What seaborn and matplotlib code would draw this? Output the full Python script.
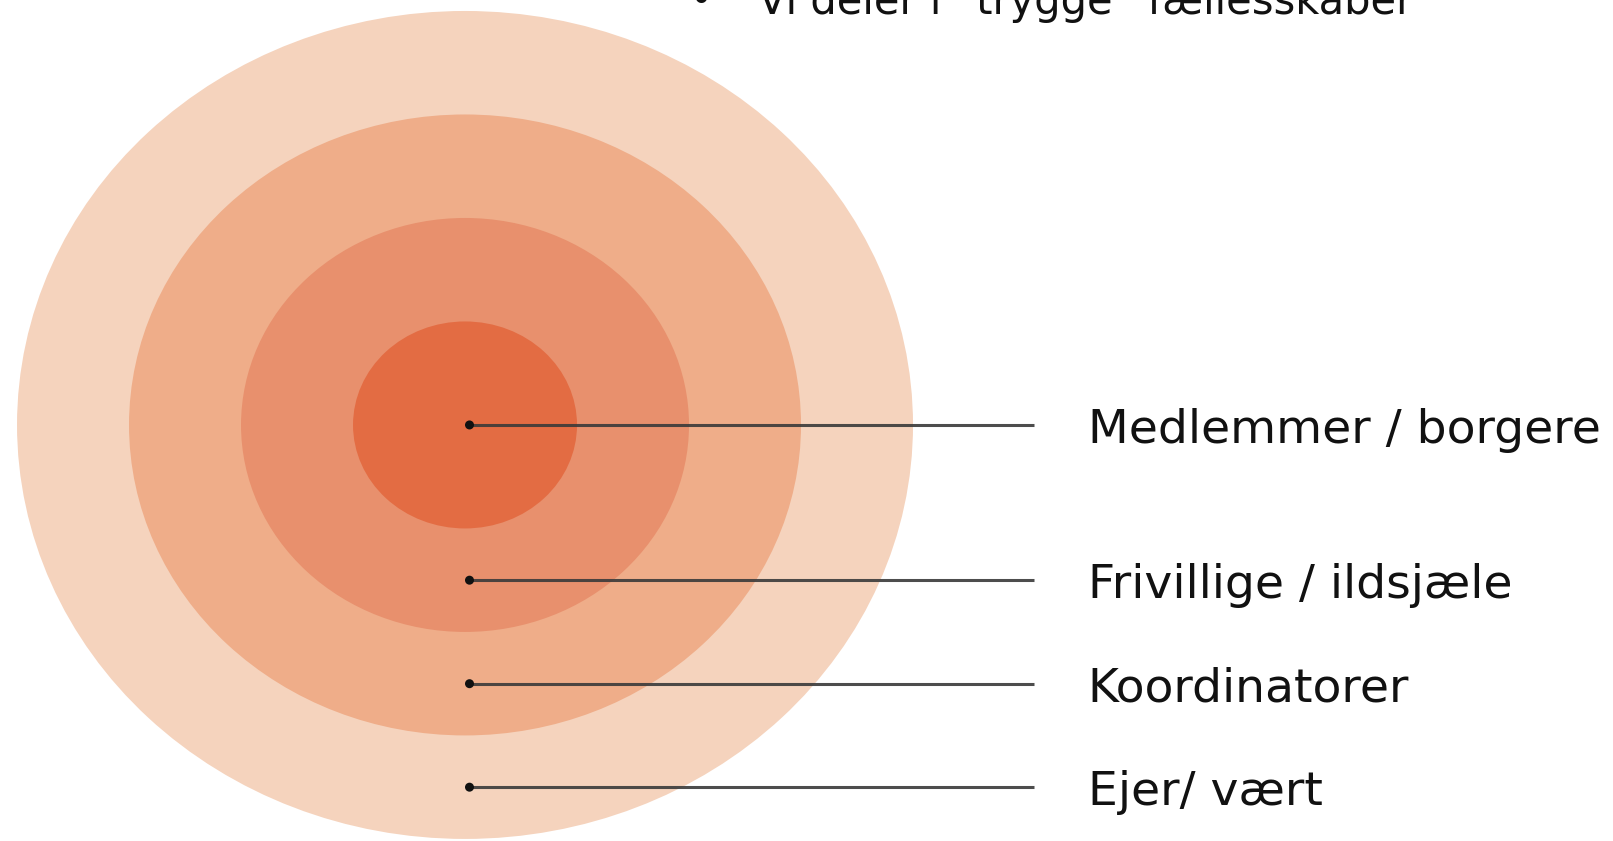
import matplotlib
matplotlib.use("Agg")
import matplotlib.pyplot as plt
from matplotlib.patches import Ellipse
import seaborn as sns
import pandas as pd

# ---- data ----
layers = ["Medlemmer / borgere", "Frivillige / ildsjæle", "Koordinatorer", "Ejer/ vært"]
ring_radius = [1, 2, 3, 4]          # outer radius of each ring (inner -> outer), relative units
ring_colors = ["#E36C43", "#E8906D", "#EFAD89", "#F5D3BD"]
title_text = "Vi deler i \u201ctrygge\u201d fællesskaber"

sns.set_theme(style="white")
plt.rcParams["font.family"] = ["DejaVu Sans"]

fig = plt.figure(figsize=(16.13, 8.41), dpi=100)
ax = fig.add_axes([0, 0, 1, 1])
ax.set_xlim(-4.152, 10.25)
ax.set_ylim(-4.02, 4.106)
ax.axis("off")

# rings, drawn from outside in
for r, c in sorted(zip(ring_radius, ring_colors), reverse=True):
    ax.add_patch(Ellipse((0, 0), 2 * r, 2 * r, facecolor=c, edgecolor="none", zorder=1))

# leader points: centre for the core, middle of each band otherwise
prev = [0] + ring_radius[:-1]
ys = [0.0 if i == 0 else -(p + r) / 2 for i, (p, r) in enumerate(zip(prev, ring_radius))]
df = pd.DataFrame({"layer": layers, "x": [0.04] * len(layers), "y": ys})

line_end = 5.08
text_x = 5.56
ax.hlines(df["y"], df["x"], line_end, colors="#3a3a3a", linewidth=2.2, alpha=0.9, zorder=2)
sns.scatterplot(data=df, x="x", y="y", color="#111111", s=42, edgecolor="none", ax=ax, zorder=3, legend=False)
for _, row in df.iterrows():
    ax.text(text_x, row["y"] - 0.05, row["layer"], fontsize=34, color="#111111",
            va="center", ha="left", zorder=4)

# header line at the top, partly cut by the upper edge as in the source slide
ax.text(2.0, 3.99, "\u2022", fontsize=28, color="#111111", va="baseline", ha="left")
ax.text(2.62, 3.97, title_text, fontsize=30, color="#111111", va="baseline", ha="left")

fig.savefig("out.png", dpi=100)
